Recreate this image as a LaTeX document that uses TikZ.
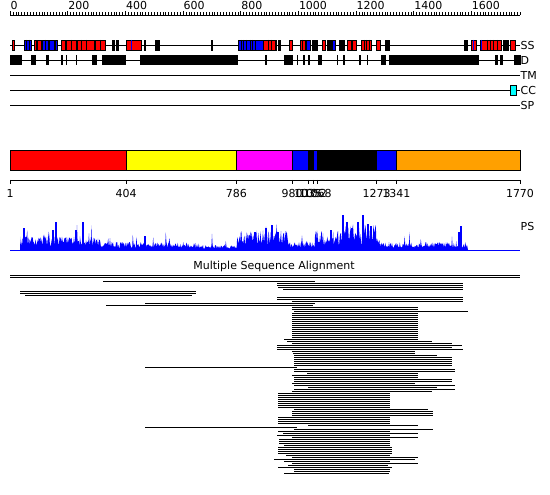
\documentclass[tikz,border=0pt]{standalone}
\usepackage{fontspec}
\setmainfont{DejaVu Sans}
\definecolor{domorange}{RGB}{255,160,0}
\definecolor{dommagenta}{RGB}{255,0,255}
\definecolor{domyellow}{RGB}{255,255,0}
\definecolor{cccyan}{RGB}{0,255,255}
\begin{document}
\begin{tikzpicture}[x=1pt, y=-1pt, font=\fontsize{11}{13}\selectfont,
    featbox/.style={draw=black, line width=0.6pt},
    trackline/.style={line width=0.8pt},
    msaline/.style={line width=0.9pt},
    tracklabel/.style={inner sep=0pt, anchor=west}]

    \useasboundingbox (0,0) rectangle (550,495);

    % Règle des résidus (0 .. 1770)
    \draw[line width=0.6pt] (10,15) -- (520.3,15);
    \foreach \p in {0,10,...,1770}
        \draw[line width=0.4pt] ({10+\p*0.2883},15) -- ({10+\p*0.2883},12.5);
    \foreach \p in {0,200,...,1600} {
        \draw[line width=0.5pt] ({10+\p*0.2883},15) -- ({10+\p*0.2883},11);
        \node[inner sep=0pt, anchor=south west] (rule\p) at ({10.5+\p*0.2883},9.5) {\p};
    }

    % Lignes des pistes et leurs noms
    \foreach \y/\t/\n in {45/SS/ss, 60/D/dis, 75/TM/tm, 90/CC/cc, 105/SP/sp} {
        \draw[trackline] (10,\y) -- (520,\y);
        \node[tracklabel] (lab-\n) at (520.5,\y) {\t};
    }

    % Structure secondaire (hélices en rouge, brins en bleu)
    \foreach \a/\b/\c in {12/14.7/red, 24/31.7/blue, 34/36/red, 37.7/41.7/red,
            42.7/48.3/blue, 49.3/54.3/blue, 55/57.7/blue, 61/65/red, 66/76.7/red,
            77.7/94/red, 95/105.7/red, 112.7/114.3/black, 116/118/black,
            126/141.7/red, 144/145.7/black, 155.3/156.7/black, 157.3/159/black,
            211/212.7/black, 238/255/blue, 255.3/263/blue, 263/275/red,
            275/276.7/black, 278.3/280/black, 289/292.3/red, 300/305/red,
            306/310/blue, 312.3/315/black, 315.7/317.7/black, 322.7/325.7/red,
            327.7/331.7/black, 332.3/335/blue, 339/344/black, 347.3/351/red,
            352.7/356.7/red, 361/371.7/red, 376.7/380/red, 385/389/black,
            464/467.7/black, 471/476.7/red, 480/501.7/red, 503.3/508.3/black,
            510/515/red}
        \filldraw[featbox, fill=\c] (\a,40) rectangle (\b,50);
    % traits internes
    \foreach \x/\c in {26.5/black, 29/black, 45.5/black, 71/black, 81/black,
            86/black, 100/black, 131.7/blue, 241/black, 243.5/black, 246/black,
            250/black, 252.5/black, 268/black, 271/black, 302/black, 364/black,
            366.5/black, 369/black, 473/blue, 481.5/blue, 487/black, 490/black,
            493/black, 497/black}
        \draw[\c, line width=0.8pt] (\x,40) -- (\x,50);

    % Régions désordonnées
    \foreach \a/\b in {10/21.7, 31/35.7, 46/49, 61/62.7, 65.7/66.7, 76/77,
            92/97, 101.7/126, 140/238, 265/266.7, 284.3/293.3, 296.7/298.3,
            303.3/305, 308.3/310, 317.7/321.7, 336.7/338.3, 343.3/345, 359/361,
            366.7/368.3, 381/385.7, 389.3/479.3, 495/497.7, 500/503.3, 514.3/521}
        \fill[black] (\a,55) rectangle (\b,65);

    % Coiled coil
    \filldraw[featbox, fill=cccyan] (510.3,85) rectangle (516.3,95);

    % Domaines
    \foreach \a/\b/\c in {1/404/red, 404/786/domyellow, 786/980/dommagenta,
            980/1035/blue, 1035/1052/black, 1052/1068/blue, 1068/1273/black,
            1273/1341/blue, 1341/1770/domorange}
        \filldraw[fill=\c, draw=black, line width=0.7pt]
            ({10+(\a-1)*0.28830},150) rectangle ({10+(\b-1)*0.28830},170);

    % Bornes des domaines
    \draw[line width=0.6pt] (10,180) -- (520,180);
    \foreach \p in {1,404,786,980,1035,1052,1068,1273,1341,1770} {
        \draw[line width=0.6pt] ({10+(\p-1)*0.28830},180) -- ({10+(\p-1)*0.28830},184.5);
        \node[inner sep=0pt, anchor=north] (pos\p) at ({10+(\p-1)*0.28830},189) {\p};
    }

    % Profil PS
    \pgfmathsetseed{17}
    \draw[blue, line width=1pt] (10,250) -- (520,250);
    \fill[blue] (20,250) \foreach \x in {20,20.6,...,468} {
        -- (\x,{250 - (5.5 + 4*(\x<100) - 2*(\x>200)*(\x<237)
                       + 8*(\x>237)*(\x<290) + 8*(\x>315)*(\x<345)
                       + 12*(\x>345)*(\x<380))*(0.35+1.1*rnd)
                   - 12*(rnd>0.95)*rnd})
    } -- (468,250) -- cycle;
    % pics marqués
    \foreach \x/\h in {24/22, 56/28, 53/20, 83/28, 76/20, 145/14, 255/18,
            266/22, 272/25, 278/18, 331/20, 343/35, 347/28, 352/22, 358/28,
            363/35, 368/26, 371/24, 461/24, 459/18}
        \fill[blue] (\x-0.6,250) rectangle (\x+0.6,250-\h);
    \node[tracklabel] (lab-ps) at (520.5,226) {PS};

    % Alignement multiple
    \node[inner sep=0pt] (msa) at (274,266) {Multiple Sequence Alignment};
    \foreach \y/\a/\b in {275/10/520, 277/10/520, 281/103/315, 283/277/463,
            285/277/463, 287/278/463, 289/283/463, 291/20/196, 293/20/196,
            295/25/192, 297/277/463, 299/277/463, 301/292/463, 303/145/315,
            305/106/313, 307/292/418, 309/292/418, 311/294/468, 337/292/418,
            339/284/418, 341/287/432, 343/292/452, 345/277/462, 347/277/452,
            349/277/463, 351/292/415, 353/293/415, 355/294/437, 367/145/297,
            369/294/455, 371/294/455, 373/307/418, 375/292/418, 377/294/418,
            379/294/452, 381/294/452, 383/292/415, 385/294/455, 387/308/437,
            389/294/455, 391/292/432, 409/294/428, 411/292/433, 413/292/433,
            415/292/433, 425/308/418, 427/145/297, 429/294/433, 431/278/390,
            433/283/418, 435/277/390, 437/292/418, 439/279/390, 441/279/390,
            443/279/390, 445/284/390, 455/286/390, 457/292/418, 459/274/415,
            461/284/390, 463/292/418, 465/288/388, 467/278/392, 469/294/390,
            471/294/390, 473/284/389}
        \draw[msaline] (\a,\y) -- (\b,\y);
    % blocs réguliers
    \foreach \y in {313,315,...,335} \draw[msaline] (292,\y) -- (418,\y);
    \foreach \y in {357,359,...,365} \draw[msaline] (294,\y) -- (452,\y);
    \foreach \y in {393,395,...,407} \draw[msaline] (278,\y) -- (390,\y);
    \foreach \y in {417,419,...,423} \draw[msaline] (278,\y) -- (390,\y);
    \foreach \y in {447,449,...,453} \draw[msaline] (278,\y) -- (392,\y);
\end{tikzpicture}
\end{document}
